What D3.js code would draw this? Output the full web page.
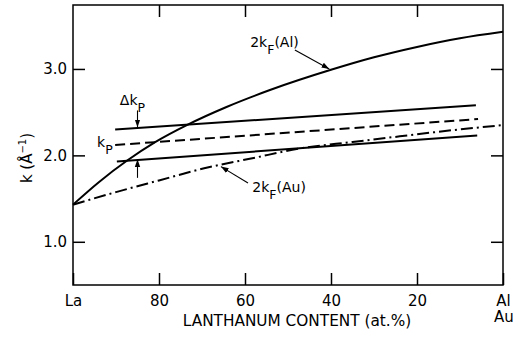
<!DOCTYPE html>
<html lang="en">
<head>
<meta charset="utf-8">
<title>k vs lanthanum content</title>
<script src="https://d3js.org/d3.v7.min.js"></script>
<style>
  body { margin: 0; background: #fff; }
  svg { display: block; font-family: "DejaVu Sans", sans-serif; }
  .frame { fill: none; stroke: #000; stroke-width: 1.5px; }
  .axis path { display: none; }
  .axis line { stroke: #000; stroke-width: 1.5px; }
  .axis text { font-size: 15px; fill: #000; font-family: "DejaVu Sans", sans-serif; }
  .curve { fill: none; stroke: #000; stroke-width: 2px; }
  .note { font-size: 14px; fill: #000; }
  .arrow { stroke: #000; stroke-width: 1.1px; fill: none; }
</style>
</head>
<body>
<svg width="513" height="341"></svg>
<script>
// x = lanthanum content (at.%), y = k (1/Angstrom)
var xTicks = [100, 80, 60, 40, 20, 0];
var xTickLabels = ["La", "80", "60", "40", "20", "Al"];
var yTicks = [1.0, 2.0, 3.0];

var kfAl = [[100, 1.43], [94, 1.69], [87.4, 1.94], [80.9, 2.153], [73.3, 2.356], [64.3, 2.56],
            [54.2, 2.756], [40, 2.99], [30, 3.135], [20, 3.255], [10, 3.355], [0, 3.43]];
var kfAu = [[100, 1.43], [90, 1.575], [80, 1.71], [69.5, 1.85], [58, 1.97], [47.2, 2.08],
            [35, 2.155], [24, 2.22], [12, 2.29], [0, 2.35]];
var kpUpper = [[90.2, 2.30], [6.3, 2.58]];
var kpMid = [[90.2, 2.12], [5.8, 2.42]];
var kpLower = [[89.8, 1.93], [6.0, 2.23]];

var svg = d3.select("svg");
var x = d3.scaleLinear().domain([100, 0]).range([73, 503]);
var y = d3.scaleLinear().domain([0.5, 3.74]).range([285, 5]);

svg.append("defs").append("marker")
  .attr("id", "head").attr("viewBox", "0 0 10 10")
  .attr("refX", 10).attr("refY", 5)
  .attr("markerWidth", 7).attr("markerHeight", 7)
  .attr("orient", "auto-start-reverse")
  .append("path").attr("d", "M0,1.5L10,5L0,8.5Z").attr("fill", "#000");

// axes, ticks pointing inward
svg.append("g").attr("class", "axis")
  .attr("transform", "translate(0,285)")
  .call(d3.axisBottom(x).tickValues(xTicks).tickSizeInner(-12).tickSizeOuter(0).tickPadding(10)
    .tickFormat(function(d, i) { return xTickLabels[i]; }));
svg.append("g").attr("class", "axis")
  .attr("transform", "translate(0,5)")
  .call(d3.axisTop(x).tickValues(xTicks.slice(1, 5)).tickSizeInner(-12).tickSizeOuter(0).tickFormat(""));
svg.append("g").attr("class", "axis")
  .attr("transform", "translate(73,0)")
  .call(d3.axisLeft(y).tickValues(yTicks).tickSizeInner(-12).tickSizeOuter(0).tickPadding(6)
    .tickFormat(d3.format(".1f")));
svg.append("g").attr("class", "axis")
  .attr("transform", "translate(503,0)")
  .call(d3.axisRight(y).tickValues(yTicks).tickSizeInner(-12).tickSizeOuter(0).tickFormat(""));

svg.append("rect").attr("class", "frame")
  .attr("x", x(100)).attr("y", y(3.74))
  .attr("width", x(0) - x(100)).attr("height", y(0.5) - y(3.74));

svg.append("text").attr("class", "note").style("font-size", "15px")
  .attr("x", x(0) + 1).attr("y", 322).attr("text-anchor", "middle").text("Au");

svg.append("text").attr("class", "note")
  .attr("x", 297).attr("y", 326).attr("text-anchor", "middle")
  .style("font-size", "15.3px").text("LANTHANUM CONTENT (at.%)");

var yl = svg.append("text").attr("class", "note").style("font-size", "15px")
  .attr("transform", "translate(32,158) rotate(-90)").attr("text-anchor", "middle");
yl.append("tspan").text("k (Å");
yl.append("tspan").attr("dy", -6).style("font-size", "10px").text("−1");
yl.append("tspan").attr("dy", 6).text(")");

// curves
var line = d3.line().x(function(d) { return x(d[0]); }).y(function(d) { return y(d[1]); })
  .curve(d3.curveMonotoneX);

svg.append("path").datum(kfAl).attr("class", "curve").attr("d", line);
svg.append("path").datum(kfAu).attr("class", "curve").attr("d", line)
  .attr("stroke-dasharray", "12,4,2,4");
svg.append("path").datum(kpUpper).attr("class", "curve").attr("d", line);
svg.append("path").datum(kpMid).attr("class", "curve").attr("d", line)
  .attr("stroke-dasharray", "10,5");
svg.append("path").datum(kpLower).attr("class", "curve").attr("d", line);

// arrows
var arrows = [
  [[48.4, 3.22], [40.4, 3.00]],
  [[59.3, 1.68], [65.6, 1.87]],
  [[85, 2.52], [85, 2.325]],
  [[85, 1.74], [85, 1.955]]
];
arrows.forEach(function(a) {
  svg.append("line").attr("class", "arrow")
    .attr("x1", x(a[0][0])).attr("y1", y(a[0][1]))
    .attr("x2", x(a[1][0])).attr("y2", y(a[1][1]))
    .attr("marker-end", "url(#head)");
});

// labels with subscripts
function label(px, py, main, sub, tail) {
  var t = svg.append("text").attr("class", "note").attr("x", x(px)).attr("y", y(py));
  t.append("tspan").text(main);
  t.append("tspan").attr("dy", 7).style("font-size", "12.5px").text(sub);
  if (tail) t.append("tspan").attr("dy", -7).text(tail);
}
label(58.8, 3.25, "2k", "F", "(Al)");
label(58.3, 1.58, "2k", "F", "(Au)");
label(89.1, 2.58, "Δk", "P");
label(94.4, 2.10, "k", "P");
</script>
</body>
</html>
